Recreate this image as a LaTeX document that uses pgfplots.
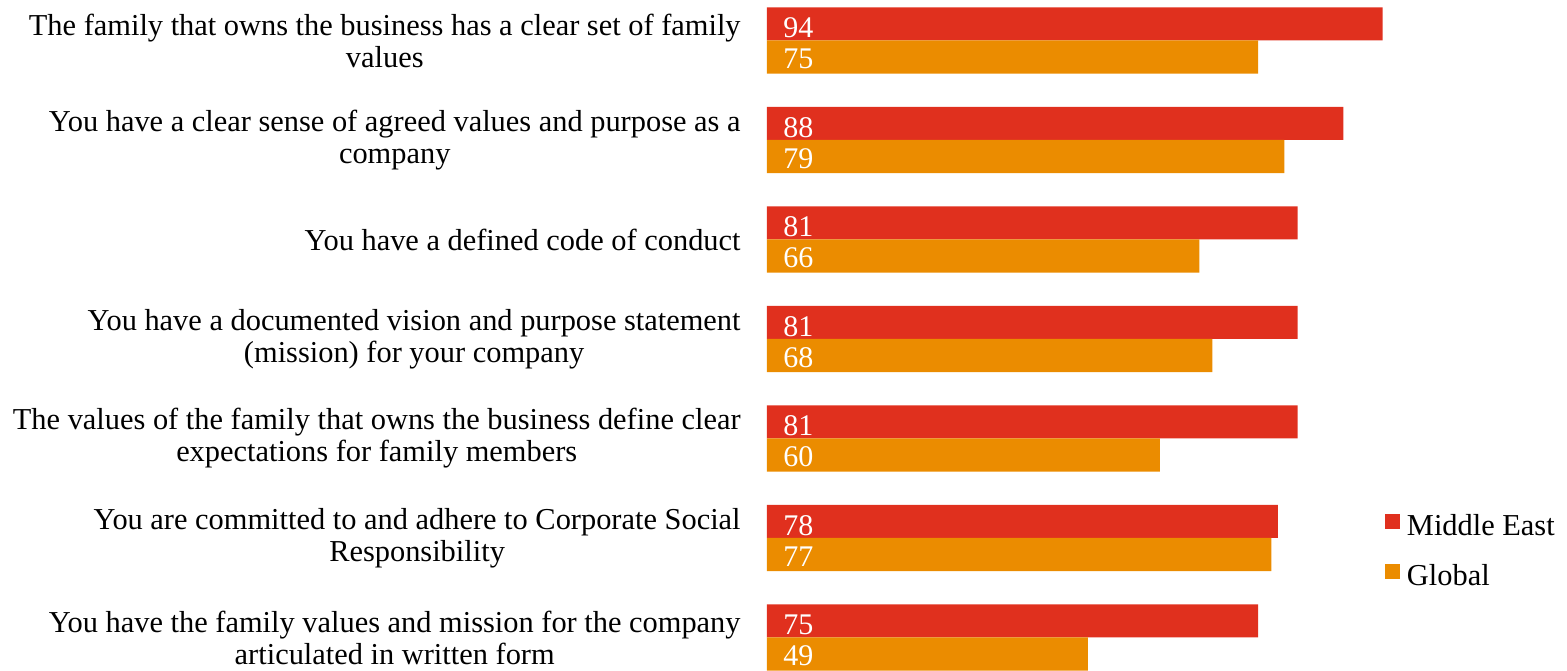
\documentclass[border=0pt]{standalone}
\usepackage{fontspec}
\setmainfont{Liberation Serif}
\usepackage{pgfplots}
\pgfplotsset{compat=1.18}
\definecolor{pwcred}{HTML}{E0301E}
\definecolor{pwcorange}{HTML}{EB8C00}
\begin{document}
\begin{tikzpicture}
\path[use as bounding box] (-383.5pt,0pt) rectangle (400pt,335pt);
\begin{axis}[
  at={(0pt,0pt)}, anchor=south west,
  scale only axis,
  width=327.5pt, height=335pt,
  xmin=0, xmax=100,
  ymin=-0.407, ymax=6.327,
  y dir=reverse,
  axis line style={draw=none},
  major tick length=0pt,
  xtick=\empty,
  ytick={0,1,2,3,4,5,6},
  yticklabels={
    {The family that owns the business has a clear set of family\\values},
    {You have a clear sense of agreed values and purpose as a\\company},
    {You have a defined code of conduct},
    {You have a documented vision and purpose statement\\(mission) for your company},
    {The values of the family that owns the business define clear\\expectations for family members},
    {You are committed to and adhere to Corporate Social\\Responsibility},
    {You have the family values and mission for the company\\articulated in written form}
  },
  yticklabel style={align=center, anchor=east, inner sep=0pt, xshift=-13pt,
    font=\fontsize{15.2}{16}\selectfont},
  clip=false,
  point meta=x,
  nodes near coords,
  /pgf/number format/assume math mode=true,
  visualization depends on={x \as \xval},
  every node near coord/.append style={white, anchor=west, inner sep=0pt,
    font=\fontsize{15}{16}\selectfont,
    /pgf/number format/assume math mode=true,
    shift={(axis direction cs:-\xval,0)}, xshift=8pt},
  legend style={at={(axis cs:94.35,5.146)}, anchor=west, draw=none, fill=none,
    inner sep=0pt, outer sep=0pt, row sep=11pt,
    font=\fontsize{15.2}{16}\selectfont,
    nodes={inner sep=0pt, text height=11pt, text depth=3pt},
    /tikz/every even column/.append style={column sep=0pt}},
  legend cell align=left,
]
\addplot[xbar, bar width=0.332, bar shift=-0.166, fill=pwcred, draw=none,
  every node near coord/.append style={yshift=6.25pt},
  legend image code/.code={\fill[pwcred] (0pt,-0.5pt) rectangle (7.5pt,7pt); \path (11pt,0pt);}]
  coordinates {(94,0) (88,1) (81,2) (81,3) (81,4) (78,5) (75,6)};
\addlegendentry{Middle East}
\addplot[xbar, bar width=0.332, bar shift=0.166, fill=pwcorange, draw=none,
  every node near coord/.append style={yshift=-9.25pt},
  legend image code/.code={\fill[pwcorange] (0pt,-0.5pt) rectangle (7.5pt,7pt); \path (11pt,0pt);}]
  coordinates {(75,0) (79,1) (66,2) (68,3) (60,4) (77,5) (49,6)};
\addlegendentry{Global}
\end{axis}
\end{tikzpicture}
\end{document}
